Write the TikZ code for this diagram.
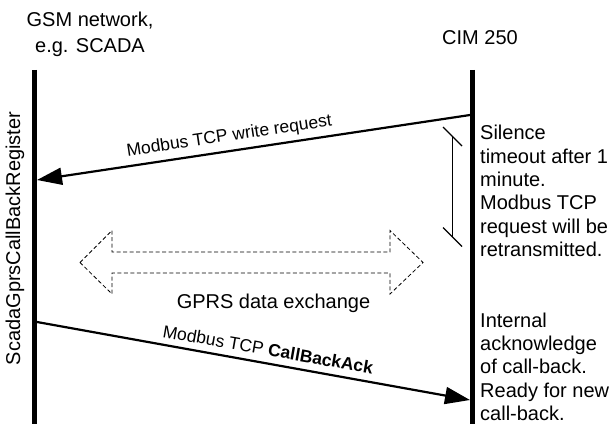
\documentclass[tikz,border=0pt]{standalone}
\usepackage{fontspec}
\setmainfont{Liberation Sans}
\usetikzlibrary{arrows.meta}
\begin{document}
\begin{tikzpicture}[x=1pt,y=-1pt,
  lifeline/.style={line width=5pt},
  msg/.style={line width=2.2pt,-{Triangle[length=25pt,width=17pt]}},
  lbl/.style={inner sep=0pt,font=\fontsize{17.5}{21}\selectfont},
  note/.style={inner sep=0pt,align=left,anchor=north west,font=\fontsize{20}{23.3}\selectfont},
  hdr/.style={inner sep=0pt,align=center,font=\fontsize{20}{25.5}\selectfont},
  gprs/.style={line width=0.8pt,dash pattern=on 4pt off 2.5pt},
  brk/.style={line width=1.3pt}]
\useasboundingbox (0,0) rectangle (612,441);
% lifelines
\coordinate (Ltop) at (34.5,70);
\coordinate (Lbot) at (34.5,424);
\coordinate (Rtop) at (472,70);
\coordinate (Rbot) at (472,424);
\draw[lifeline] (Ltop) -- (Lbot);
\draw[lifeline] (Rtop) -- (Rbot);
% headers
\node[hdr,anchor=north] (hL) at (90,12.2) {GSM network,\\e.g. SCADA};
\node[hdr,anchor=base] (hR) at (480,45) {CIM 250};
\node[hdr,anchor=base,rotate=90] (reg) at (20,238.5) {ScadaGprsCallBackRegister};
% message 1
\coordinate (m1s) at (470,115);
\coordinate (m1e) at (37,180);
\draw[msg] (m1s) -- (m1e);
\node[lbl,rotate=8.5,anchor=base] (l1) at (230,141) {Modbus TCP write request};
% message 2
\coordinate (m2s) at (37,322);
\coordinate (m2e) at (470,400);
\draw[msg] (m2s) -- (m2e);
\node[lbl,rotate=-10,anchor=base] (l2) at (267,355.5) {Modbus TCP \textbf{CallBackAck}};
% timeout bracket
\coordinate (bt) at (452.5,136.5);
\coordinate (bb) at (452.5,237);
\draw[brk] (bt) -- (bb);
\draw[brk] ([shift={(-9.5,-9.5)}]bt) -- ([shift={(9.5,9.5)}]bt);
\draw[brk] ([shift={(-9.5,-9.5)}]bb) -- ([shift={(9.5,9.5)}]bb);
% notes
\node[note] (n1) at (480,125.2) {Silence\\timeout after 1\\minute.\\Modbus TCP\\request will be\\retransmitted.};
\node[note] (n2) at (480,312.7) {Internal\\acknowledge\\of call-back.\\Ready for new\\call-back.};
% GPRS data exchange
\draw[gprs] (80,262.5) -- (112,230.5) -- (112,252) -- (390,252) -- (390,230.5) -- (423,262.5) -- (390,294) -- (390,273) -- (112,273) -- (112,294) -- cycle;
\node[hdr,anchor=base] (gp) at (273.5,308) {GPRS data exchange};
\end{tikzpicture}
\end{document}
